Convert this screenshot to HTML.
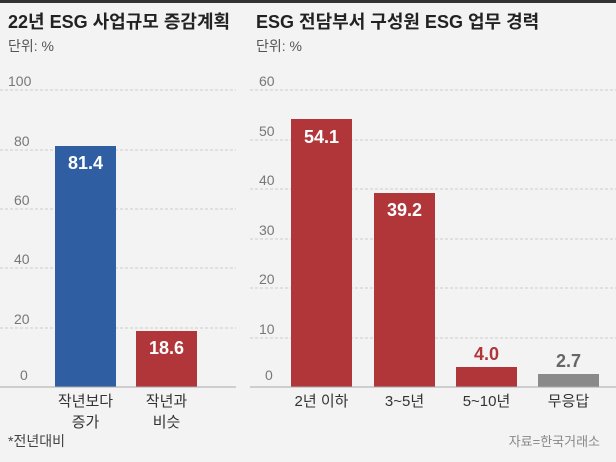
<!DOCTYPE html>
<html><head><meta charset="utf-8"><style>
body{margin:0;width:616px;height:457px;background:#f3f3f3;overflow:hidden;font-family:"Liberation Sans","Noto Sans CJK KR",sans-serif;}
</style></head><body>
<svg width="616" height="457" xmlns="http://www.w3.org/2000/svg" font-family="Liberation Sans, Noto Sans CJK KR, sans-serif">
<rect x="0" y="0" width="616" height="3" fill="#333"/>
<text x="8" y="28" font-size="18" font-weight="bold" fill="#222">22년 ESG 사업규모 증감계획</text>
<text x="256" y="28" font-size="18" font-weight="bold" fill="#222">ESG 전담부서 구성원 ESG 업무 경력</text>
<text x="8" y="51" font-size="14" fill="#555">단위: %</text>
<text x="256" y="51" font-size="14" fill="#555">단위: %</text>
<g stroke="#ccc" stroke-dasharray="3,2" stroke-width="1">
<line x1="0" x2="236" y1="90" y2="90"/><line x1="0" x2="236" y1="150" y2="150"/><line x1="0" x2="236" y1="209" y2="209"/><line x1="0" x2="236" y1="268" y2="268"/><line x1="0" x2="236" y1="328" y2="328"/>
<line x1="250" x2="616" y1="90" y2="90"/><line x1="250" x2="616" y1="140" y2="140"/><line x1="250" x2="616" y1="189" y2="189"/><line x1="250" x2="616" y1="239" y2="239"/><line x1="250" x2="616" y1="288" y2="288"/><line x1="250" x2="616" y1="338" y2="338"/>
</g>
<g font-size="14" fill="#777">
<text x="8" y="86">100</text><text x="14" y="146">80</text><text x="14" y="205">60</text><text x="14" y="264">40</text><text x="14" y="324">20</text><text x="20" y="380">0</text>
<text x="259" y="86">60</text><text x="259" y="136">50</text><text x="259" y="185">40</text><text x="259" y="235">30</text><text x="259" y="284">20</text><text x="259" y="334">10</text><text x="265" y="380">0</text>
</g>
<rect x="55" y="146" width="61" height="241" fill="#2f5ea3"/>
<rect x="136" y="331" width="61" height="56" fill="#b0363a"/>
<rect x="291" y="119" width="61" height="268" fill="#b0363a"/>
<rect x="374" y="193" width="61" height="194" fill="#b0363a"/>
<rect x="456" y="367" width="61" height="20" fill="#b0363a"/>
<rect x="538" y="374" width="61" height="13" fill="#8a8a8a"/>
<line x1="0" x2="236" y1="387" y2="387" stroke="#aaa"/>
<line x1="250" x2="616" y1="387" y2="387" stroke="#aaa"/>
<g font-size="18" font-weight="bold" text-anchor="middle" fill="#fff">
<text x="85.5" y="169">81.4</text><text x="166.5" y="354">18.6</text>
<text x="321.5" y="143">54.1</text><text x="404.5" y="216">39.2</text>
<text x="486.5" y="360" fill="#b0363a">4.0</text><text x="568.5" y="367" fill="#666">2.7</text>
</g>
<g font-size="15" text-anchor="middle" fill="#333">
<text x="85.5" y="406">작년보다</text><text x="85.5" y="427">증가</text>
<text x="166.5" y="406">작년과</text><text x="166.5" y="427">비슷</text>
<text x="321.5" y="406">2년 이하</text><text x="404.5" y="406">3~5년</text><text x="486.5" y="406">5~10년</text><text x="568.5" y="406">무응답</text>
</g>
<text x="8" y="446" font-size="14" fill="#444">*전년대비</text>
<text x="600" y="446" font-size="13" fill="#888" text-anchor="end">자료=한국거래소</text>
</svg>
</body></html>
